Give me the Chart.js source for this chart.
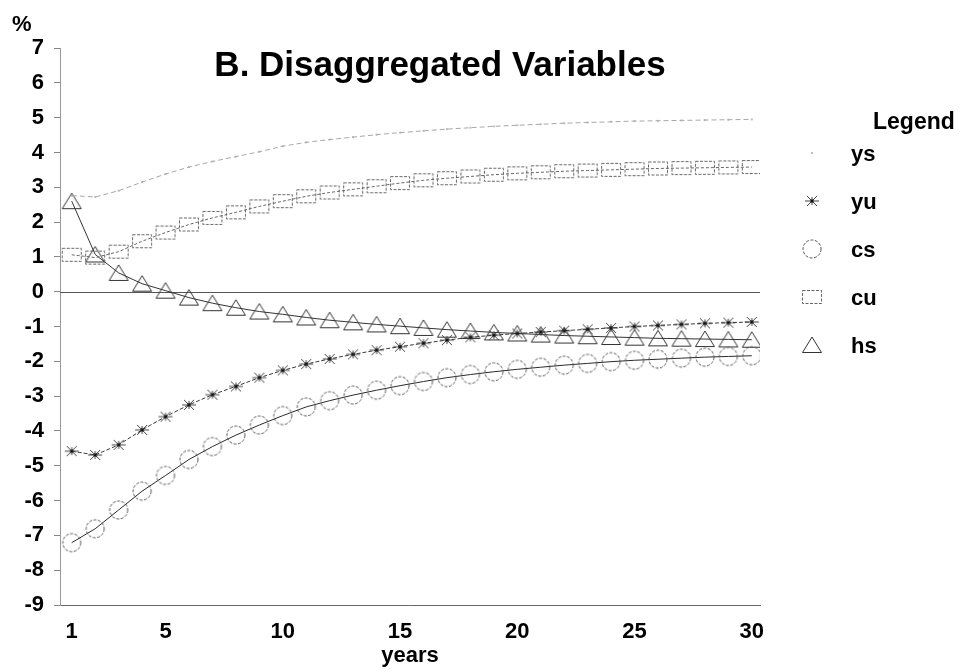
<!DOCTYPE html>
<html>
<head>
<meta charset="utf-8">
<script src="https://cdn.jsdelivr.net/npm/chart.js@4/dist/chart.umd.min.js"></script>
<style>
  html, body { margin: 0; padding: 0; background: #fff; }
  #wrap { width: 962px; height: 672px; position: relative; }
</style>
</head>
<body>
<div id="wrap"><canvas id="c" width="962" height="672"></canvas></div>
<script>
// ---- data ----
const years = [1,2,3,4,5,6,7,8,9,10,11,12,13,14,15,16,17,18,19,20,21,22,23,24,25,26,27,28,29,30];
const xTickLabels = [1,5,10,15,20,25,30];
const yTickValues = [-9,-8,-7,-6,-5,-4,-3,-2,-1,0,1,2,3,4,5,6,7];
const seriesNames = ['ys','yu','cs','cu','hs'];
const ys = [2.76,2.72,2.9,3.15,3.38,3.58,3.74,3.88,4.02,4.18,4.29,4.37,4.44,4.51,4.57,4.62,4.67,4.71,4.75,4.78,4.81,4.84,4.86,4.88,4.9,4.91,4.92,4.93,4.94,4.95];
const yu = [-4.58,-4.69,-4.4,-3.97,-3.59,-3.25,-2.96,-2.72,-2.47,-2.26,-2.08,-1.93,-1.8,-1.68,-1.58,-1.48,-1.39,-1.31,-1.25,-1.2,-1.16,-1.12,-1.08,-1.04,-1.0,-0.97,-0.94,-0.91,-0.89,-0.87];
const cs = [-7.21,-6.81,-6.27,-5.73,-5.28,-4.82,-4.45,-4.12,-3.83,-3.56,-3.31,-3.13,-2.97,-2.83,-2.7,-2.58,-2.47,-2.38,-2.3,-2.23,-2.17,-2.11,-2.06,-2.01,-1.97,-1.94,-1.91,-1.88,-1.86,-1.84];
const cu = [1.06,0.98,1.15,1.45,1.7,1.93,2.12,2.28,2.45,2.6,2.74,2.85,2.94,3.03,3.12,3.2,3.26,3.31,3.36,3.4,3.43,3.46,3.48,3.5,3.52,3.54,3.55,3.56,3.57,3.58];
const hs = [2.6,1.07,0.54,0.23,0.03,-0.17,-0.33,-0.46,-0.57,-0.65,-0.74,-0.82,-0.88,-0.94,-0.99,-1.04,-1.09,-1.13,-1.17,-1.2,-1.23,-1.26,-1.28,-1.3,-1.32,-1.34,-1.35,-1.36,-1.37,-1.38];
const titleText = 'B. Disaggregated Variables';
const legendTitle = 'Legend';
const xTitle = 'years';
const yUnit = '%';

// ---- marker images ----
function mk(w, h, draw) {
  const c = document.createElement('canvas');
  c.width = w; c.height = h;
  const g = c.getContext('2d');
  draw(g, w, h);
  return c;
}
const dotImg = mk(4, 4, (g) => { g.fillStyle = '#aaa'; g.beginPath(); g.arc(2, 2, 1, 0, Math.PI*2); g.fill(); });
const starImg = mk(16, 14, (g, w, h) => {
  g.strokeStyle = '#444'; g.lineWidth = 1;
  g.beginPath();
  g.moveTo(1, 7); g.lineTo(15, 7);
  g.moveTo(3, 2); g.lineTo(13, 12);
  g.moveTo(13, 2); g.lineTo(3, 12);
  g.moveTo(8, 3); g.lineTo(8, 11);
  g.stroke();
  g.fillStyle = '#111'; g.fillRect(6.5, 5.5, 3, 3);
});
const circleImg = mk(22, 22, (g) => {
  g.strokeStyle = '#555'; g.lineWidth = 1; g.setLineDash([3, 1.5]);
  g.beginPath(); g.arc(11, 11, 9, 0, Math.PI*2); g.stroke();
});
const rectImg = mk(22, 18, (g) => {
  g.strokeStyle = '#666'; g.lineWidth = 1; g.setLineDash([3, 1.5]);
  g.strokeRect(1.5, 2.5, 19, 13);
});
const triImg = mk(22, 20, (g) => {
  g.strokeStyle = '#333'; g.lineWidth = 1;
  g.beginPath(); g.moveTo(11, 2); g.lineTo(20.5, 17.5); g.lineTo(1.5, 17.5); g.closePath(); g.stroke();
});

const FONT = '"Liberation Sans", Arial, Helvetica, sans-serif';
Chart.defaults.font.family = FONT;
Chart.defaults.color = '#000';

const markers = [dotImg, starImg, circleImg, rectImg, triImg];

function pts(arr) { return years.map((x, i) => ({ x: x, y: arr[i] })); }

const datasets = [
  { label: seriesNames[0], data: pts(ys), borderColor: '#a8a8a8', borderWidth: 1, borderDash: [5, 3], pointStyle: dotImg, pointRadius: 2 },
  { label: seriesNames[1], data: pts(yu), borderColor: '#3a3a3a', borderWidth: 1, borderDash: [4, 2], pointStyle: starImg, pointRadius: 7 },
  { label: seriesNames[2], data: pts(cs), borderColor: '#2a2a2a', borderWidth: 1, pointStyle: circleImg, pointRadius: 9 },
  { label: seriesNames[3], data: pts(cu), borderColor: '#666', borderWidth: 1, borderDash: [3, 2], pointStyle: rectImg, pointRadius: 9 },
  { label: seriesNames[4], data: pts(hs), borderColor: '#333', borderWidth: 1, pointStyle: triImg, pointRadius: 9 }
];
datasets.forEach(d => { d.fill = false; d.tension = 0; d.backgroundColor = 'rgba(0,0,0,0)'; });

const decor = {
  id: 'decor',
  beforeDatasetsDraw(chart) {
    // solid zero reference line across the plot
    const ctx = chart.ctx, y = chart.scales.y.getPixelForValue(0), a = chart.chartArea;
    ctx.save();
    ctx.strokeStyle = '#555'; ctx.lineWidth = 1; ctx.setLineDash([]);
    ctx.beginPath(); ctx.moveTo(a.left, Math.round(y) + 0.5); ctx.lineTo(a.right, Math.round(y) + 0.5); ctx.stroke();
    ctx.restore();
  },
  afterDraw(chart) {
    const ctx = chart.ctx;
    ctx.save();
    ctx.fillStyle = '#000';
    ctx.textBaseline = 'alphabetic';
    // title
    ctx.font = 'bold 35px ' + FONT;
    ctx.textAlign = 'center';
    ctx.fillText(titleText, 440, 76);
    // unit
    ctx.font = 'bold 22px ' + FONT;
    ctx.textAlign = 'left';
    ctx.fillText(yUnit, 12, 31);
    // legend
    ctx.font = 'bold 23px ' + FONT;
    ctx.fillText(legendTitle, 873, 129);
    ctx.font = 'bold 22px ' + FONT;
    chart.data.datasets.forEach((d, i) => {
      const base = 161 + 48 * i;
      ctx.fillText(d.label, 851, base);
      const img = markers[i];
      ctx.drawImage(img, 812 - img.width / 2, base - 8 - img.height / 2);
    });
    ctx.restore();
  }
};

new Chart(document.getElementById('c'), {
  type: 'line',
  data: { datasets },
  options: {
    responsive: false,
    animation: false,
    layout: { padding: { top: 48, right: 202, left: 0, bottom: 0 } },
    plugins: { legend: { display: false }, title: { display: false }, tooltip: { enabled: false } },
    scales: {
      x: {
        type: 'linear',
        min: 0.5, max: 30.35,
        afterFit(s) { s.height = 67; },
        afterBuildTicks(s) { s.ticks = xTickLabels.map(v => ({ value: v })); },
        grid: { display: true, drawOnChartArea: false, drawTicks: false },
        border: { display: true, color: '#666', width: 1 },
        ticks: { font: { size: 22, weight: 'bold' }, padding: 14, color: '#000', maxRotation: 0, autoSkip: false },
        title: { display: true, text: xTitle, font: { size: 22, weight: 'bold' }, color: '#000', padding: { top: 0, bottom: 3 } }
      },
      y: {
        type: 'linear',
        min: -9, max: 7,
        afterFit(s) { s.width = 60; },
        afterBuildTicks(s) { s.ticks = yTickValues.map(v => ({ value: v })); },
        grid: {
          drawTicks: true, drawOnChartArea: false, tickLength: 6,
          tickColor: '#888', lineWidth: 1
        },
        border: { display: true, color: '#999', width: 1, dash: [2, 2] },
        ticks: { font: { size: 22, weight: 'bold' }, padding: 10, color: '#000', autoSkip: false }
      }
    }
  },
  plugins: [decor]
});
</script>
</body>
</html>
